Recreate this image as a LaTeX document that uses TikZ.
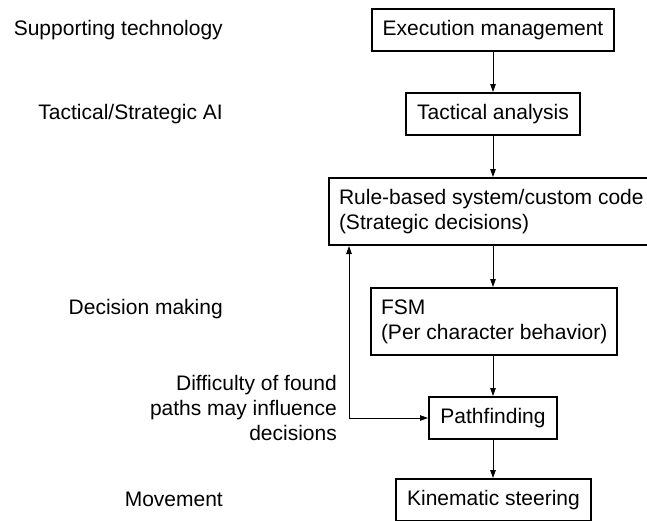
\documentclass[tikz,border=0pt]{standalone}
\usepackage{fontspec}
\setmainfont{Liberation Sans}
\usetikzlibrary{arrows.meta}
\begin{document}
\begin{tikzpicture}[x=1pt,y=-1pt,
  every node/.style={font=\fontsize{21}{25}\selectfont},
  box/.style={draw,line width=2pt,inner sep=0pt,minimum height=42pt},
  mbox/.style={draw,line width=2pt,inner xsep=10pt,inner ysep=0pt,align=left,minimum height=67pt,anchor=north west},
  lab/.style={anchor=base east,inner sep=0pt},
  tip/.style={Triangle[length=8pt,width=5.5pt]},
  arr/.style={line width=1pt,-{Triangle[length=8pt,width=5.5pt]}}]
\useasboundingbox (0,0) rectangle (647,520);
\fill[white] (0,0) rectangle (647,520);
\node[box,minimum width=242pt] (exec) at (493,30) {Execution management};
\node[box,minimum width=174pt] (tact) at (493,114) {Tactical analysis};
\node[mbox] (rule) at (328,177) {Rule-based system/custom code\\(Strategic decisions)};
\node[mbox] (fsm) at (370,287) {FSM\\(Per character behavior)};
\node[box,minimum width=128pt] (path) at (493,418) {Pathfinding};
\node[box,minimum width=195pt] (kin) at (493.5,500) {Kinematic steering};
\node[lab] (l1) at (223,35) {Supporting technology};
\node[lab] (l2) at (223,119) {Tactical/Strategic AI};
\node[lab] (l3) at (223,314) {Decision making};
\node[lab] (l4) at (223,506) {Movement};
\node[anchor=east,inner sep=0pt,align=right] (diff) at (337,408) {Difficulty of found\\paths may influence\\decisions};
\coordinate (fb) at (349,418);
\draw[arr] (exec.south -| tact.north) -- (tact.north);
\draw[arr] (tact.south) -- (tact.south |- rule.north);
\draw[arr] (tact.south |- rule.south) -- (tact.south |- fsm.north);
\draw[arr] (tact.south |- fsm.south) -- (path.north);
\draw[arr] (path.south) -- (kin.north -| path.south);
\draw[arr,{Triangle[length=8pt,width=5.5pt]}-{Triangle[length=8pt,width=5.5pt]}] (fb |- rule.south) -- (fb) -- (path.west);
\end{tikzpicture}
\end{document}
